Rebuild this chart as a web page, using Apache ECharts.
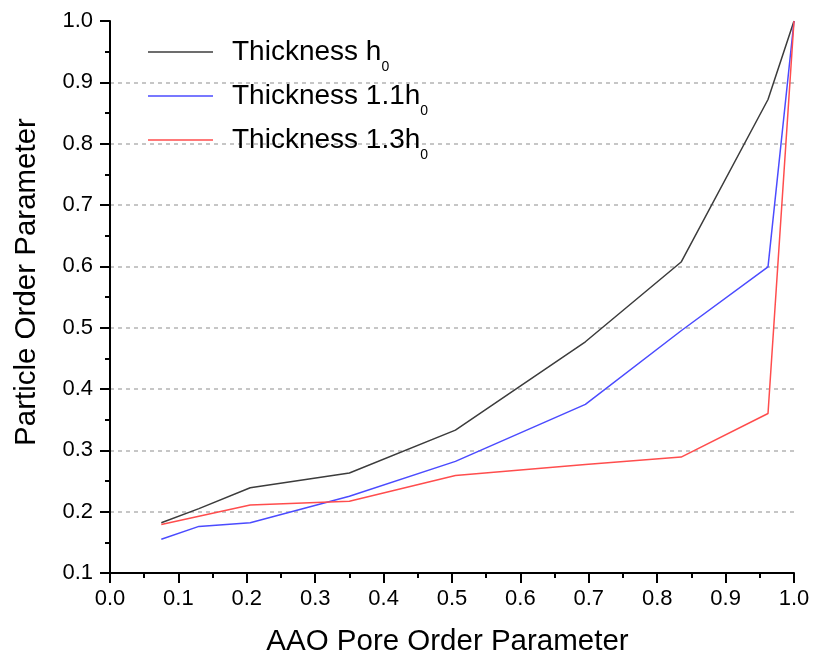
<!DOCTYPE html>
<html>
<head>
<meta charset="utf-8">
<script src="https://cdn.jsdelivr.net/npm/echarts@6/dist/echarts.min.js"></script>
<style>
  html, body { margin: 0; padding: 0; background: #fff; }
  #chart { width: 814px; height: 653px; }
</style>
</head>
<body>
<div id="chart"></div>
<script>
// AAO pore order (x) vs particle order (y)
const poreOrder = [0.075, 0.13, 0.205, 0.35, 0.505, 0.695, 0.835, 0.962, 1.0]
const thickH0 = [0.182, 0.205, 0.239, 0.263, 0.333, 0.477, 0.607, 0.872, 1.0]
const thick11 = [0.155, 0.176, 0.182, 0.225, 0.282, 0.375, 0.495, 0.599, 1.0]
const thick13 = [0.179, 0.1925, 0.211, 0.217, 0.259, 0.277, 0.289, 0.36, 1.0]
const seriesNames = ['Thickness h0', 'Thickness 1.1h0', 'Thickness 1.3h0']
const legendText = ['{m|Thickness h}{sub|0}', '{m|Thickness 1.1h}{sub|0}', '{m|Thickness 1.3h}{sub|0}']
const colors = ['#3c3c3c', '#4b4bff', '#ff4d4d']

const font = 'Arial, "Liberation Sans", sans-serif'
const pair = ys => poreOrder.map((x, i) => [x, ys[i]])

const chart = echarts.init(document.getElementById('chart'))

const mkSeries = (name, ys, color) => ({
  name,
  type: 'line',
  data: pair(ys),
  symbol: 'none',
  lineStyle: { color, width: 1.5 },
  itemStyle: { color }
})

chart.setOption({
  animation: false,
  grid: { left: 110, right: 20, top: 21, bottom: 80, outerBoundsMode: 'none', containLabel: false },
  legend: {
    orient: 'vertical',
    left: 148,
    top: 30,
    padding: 0,
    icon: 'rect',
    itemWidth: 65,
    itemHeight: 1.5,
    itemGap: 0,
    data: seriesNames,
    formatter: name => legendText[seriesNames.indexOf(name)],
    textStyle: {
      fontFamily: font,
      color: '#000',
      padding: [0, 0, 0, 14],
      rich: {
        m: { fontFamily: font, fontSize: 28, lineHeight: 30, color: '#000', verticalAlign: 'middle' },
        sub: { fontFamily: font, fontSize: 14, lineHeight: 14, color: '#000', verticalAlign: 'middle', padding: [30, 0, 0, 0] }
      }
    }
  },
  xAxis: {
    type: 'value',
    min: 0,
    max: 1,
    interval: 0.1,
    name: 'AAO Pore Order Parameter',
    nameLocation: 'middle',
    nameGap: 54,
    nameTextStyle: { fontFamily: font, fontSize: 29.5, color: '#000', padding: [0, 9, 0, 0] },
    axisLine: { lineStyle: { color: '#000', width: 2 } },
    axisTick: { length: 10, lineStyle: { color: '#000', width: 2 } },
    minorTick: { show: true, splitNumber: 2, length: 5, lineStyle: { color: '#000', width: 2 } },
    axisLabel: { fontFamily: font, fontSize: 22, color: '#000', margin: 15, formatter: v => v.toFixed(1) },
    splitLine: { show: false }
  },
  yAxis: {
    type: 'value',
    min: 0.1,
    max: 1,
    interval: 0.1,
    name: 'Particle Order Parameter',
    nameLocation: 'middle',
    nameGap: 68,
    nameTextStyle: { fontFamily: font, fontSize: 29.5, color: '#000', padding: [0, 0, 0, 30] },
    axisLine: { show: true, lineStyle: { color: '#000', width: 2 } },
    axisTick: { show: true, length: 10, lineStyle: { color: '#000', width: 2 } },
    minorTick: { show: true, splitNumber: 2, length: 5, lineStyle: { color: '#000', width: 2 } },
    axisLabel: { fontFamily: font, fontSize: 22, color: '#000', margin: 17, formatter: v => v.toFixed(1) },
    splitLine: {
      show: true,
      showMinLine: false,
      showMaxLine: false,
      lineStyle: { color: '#b4b4b4', type: [4, 4], width: 1.5 }
    }
  },
  series: [
    mkSeries(seriesNames[0], thickH0, colors[0]),
    mkSeries(seriesNames[1], thick11, colors[1]),
    mkSeries(seriesNames[2], thick13, colors[2])
  ]
})
</script>
</body>
</html>
